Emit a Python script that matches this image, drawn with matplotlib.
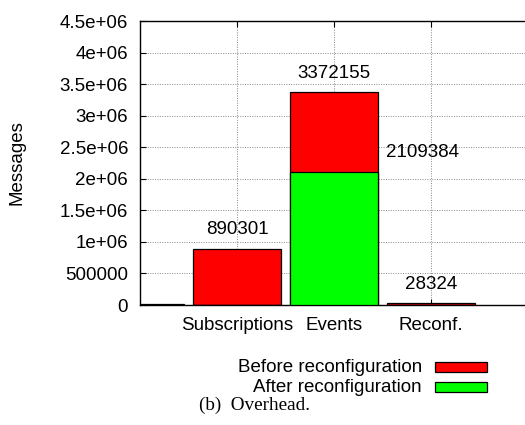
import matplotlib
matplotlib.use("Agg")
import matplotlib.pyplot as plt
from matplotlib.patches import Rectangle
from matplotlib.ticker import FixedLocator

# ---- data ----
categories = ["", "Subscriptions", "Events", "Reconf."]
before = [8000, 890301, 3372155, 28324]
after = [0, 0, 2109384, 0]
top_labels = ["", "890301", "3372155", "28324"]
after_label = "2109384"
yticks = [0, 500000, 1000000, 1500000, 2000000, 2500000, 3000000, 3500000, 4000000, 4500000]
ytick_labels = ["0", "500000", "1e+06", "1.5e+06", "2e+06", "2.5e+06", "3e+06", "3.5e+06", "4e+06", "4.5e+06"]
series_names = ["Before reconfiguration", "After reconfiguration"]
series_colors = ["#ff0000", "#00ff00"]

W, H = 525, 425
FS = 13.5
plt.rcParams["font.family"] = ["Liberation Sans", "DejaVu Sans"]

fig = plt.figure(figsize=(W / 100, H / 100), dpi=100)

def fx(px):
    return px / W

def fy(py):
    return 1 - py / H

ax = fig.add_axes([fx(140), fy(305), fx(525) - fx(140), fy(21) - fy(305)])
x = list(range(len(categories)))

ax.set_axisbelow(True)
ax.grid(True, linestyle=(0, (1, 1.5)), color="#888888", linewidth=0.7)

ax.bar(x, before, width=0.9, color=series_colors[0], edgecolor="black", linewidth=0.9, zorder=2)
ax.bar(x, after, width=0.9, color=series_colors[1], edgecolor="black", linewidth=0.9, zorder=3)

px2pt = 72 / 100
for xi, v, lab in zip(x, before, top_labels):
    if lab:
        ax.annotate(lab, xy=(xi, v), xytext=(0, 19 * px2pt), textcoords="offset points",
                    ha="center", va="center", fontsize=FS, zorder=5)
ax.annotate(after_label, xy=(2.45, after[2]), xytext=(8 * px2pt, 19 * px2pt), textcoords="offset points",
            ha="left", va="center", fontsize=FS, zorder=5)

ax.set_xlim(0, 385 / 97)
ax.set_ylim(0, 4500000)
ax.xaxis.set_major_locator(FixedLocator([1, 2, 3]))
ax.set_xticklabels(categories[1:])
ax.set_yticks(yticks)
ax.set_yticklabels(ytick_labels)
ax.tick_params(axis="both", direction="in", length=4, width=0.8, labelsize=FS,
               top=True, right=False)
ax.tick_params(axis="x", pad=9)
ax.tick_params(axis="y", pad=8.5)
ax.spines["right"].set_visible(False)
for s in ["left", "bottom", "top"]:
    ax.spines[s].set_linewidth(1.0)

fig.text(fx(17), fy(163), "Messages", rotation=90, ha="center", va="center", fontsize=FS)

# legend
rows_y = [367, 387]
for name, col, ry in zip(series_names, series_colors, rows_y):
    fig.text(fx(422), fy(ry), name, ha="right", va="center", fontsize=FS)
    fig.patches.append(Rectangle((fx(435), fy(ry + 5)), fx(487) - fx(435), fy(ry - 5) - fy(ry + 5),
                                 transform=fig.transFigure, facecolor=col, edgecolor="black",
                                 linewidth=0.9))

fig.text(fx(199), fy(405), "(b)  Overhead.", ha="left", va="center", fontsize=FS + 0.3,
         family=["Liberation Serif", "DejaVu Serif"])

fig.savefig("out.png", dpi=100)
